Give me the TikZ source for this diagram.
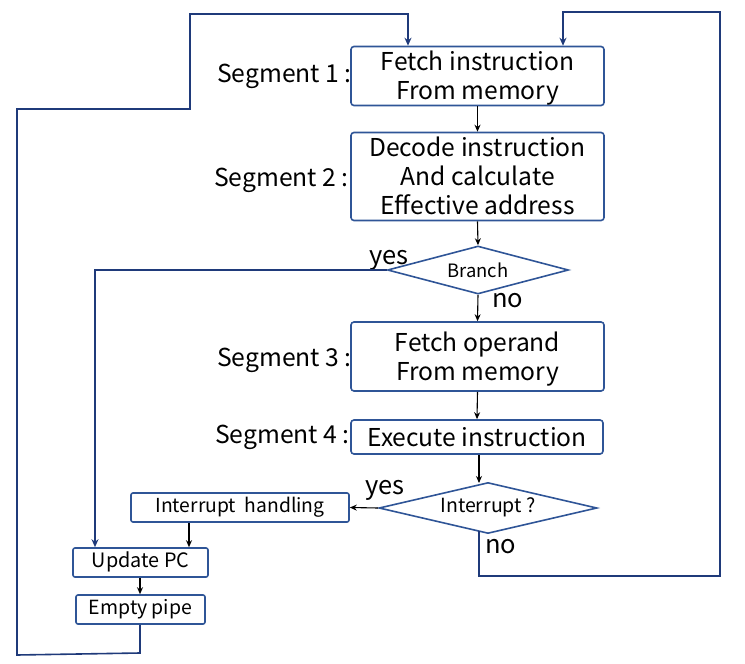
\documentclass[tikz,border=0pt]{standalone}
\usepackage{fontspec}
\setmainfont{Noto Sans CJK SC}
\usetikzlibrary{shapes.geometric,arrows.meta}
\definecolor{boxblue}{HTML}{2F5597}
\definecolor{navy}{HTML}{1F3A7A}
\newcommand\tstr{\rule{0pt}{24pt}}
\newcommand\bstr{\rule[-6pt]{0pt}{6pt}}
\newcommand\sstr{\rule[-5pt]{0pt}{19.3pt}}
\tikzset{
  stepbox/.style={draw=boxblue, line width=1.6pt, rounded corners=3pt, fill=white,
    align=center, inner sep=0pt, font=\fontsize{24.6}{29}\selectfont},
  smallbox/.style={draw=boxblue, line width=1.6pt, rounded corners=2pt, fill=white,
    align=center, inner sep=0pt},
  decide/.style={draw=boxblue, line width=1.6pt, diamond, aspect=3.7, inner sep=0pt},
  seglabel/.style={anchor=base east, inner sep=0pt, font=\fontsize{24.7}{28}\selectfont},
  anslabel/.style={anchor=base west, inner sep=0pt, font=\fontsize{25.5}{28}\selectfont},
  flow/.style={-{Stealth[length=7pt,width=6pt]}, line width=1.1pt, black},
  loop/.style={-{Stealth[length=8pt,width=7pt]}, line width=1.6pt, navy},
}
\begin{document}
\begin{tikzpicture}[x=1pt,y=-1pt]
\useasboundingbox (0,0) rectangle (745,664);
% main column
\node[stepbox, minimum width=253pt, minimum height=54pt] (fetch) at (477.5,76) {\tstr Fetch instruction\\From memory\bstr};
\node[stepbox, minimum width=253pt, minimum height=81pt] (decode) at (477.5,176.5) {\tstr Decode instruction\\And calculate\\Effective address\bstr};
\node[decide, minimum width=181pt, minimum height=48pt, font=\fontsize{18.4}{22}\selectfont] (branch) at (478,270) {Branch};
\node[stepbox, minimum width=253pt, minimum height=69pt] (operand) at (477.5,356.5) {\tstr Fetch operand\\From memory\bstr};
\node[stepbox, minimum width=252pt, minimum height=34pt] (exec) at (477,437) {\tstr Execute instruction\bstr};
\node[decide, minimum width=218pt, minimum height=51pt, font=\fontsize{19.5}{22}\selectfont] (intr) at (488,508) {\sstr Interrupt ?};
% left column
\node[smallbox, minimum width=218pt, minimum height=29pt, font=\fontsize{19.3}{22}\selectfont] (handle) at (240,507.5) {\sstr Interrupt\ \ handling};
\node[smallbox, minimum width=135pt, minimum height=29pt, font=\fontsize{19.8}{22}\selectfont] (update) at (140.5,562.5) {\sstr Update PC};
\node[smallbox, minimum width=129pt, minimum height=29pt, font=\fontsize{19.5}{22}\selectfont] (empty) at (140.5,609.5) {\sstr Empty pipe};
% segment labels
\node[seglabel] (s1) at (352,82.8) {Segment 1 :};
\node[seglabel] (s2) at (349,186.3) {Segment 2 :};
\node[seglabel] (s3) at (352,366.8) {Segment 3 :};
\node[seglabel] (s4) at (350,443.8) {Segment 4 :};
% answer labels
\node[anslabel] (by) at (369,264) {yes};
\node[anslabel] (bn) at (492,307) {no};
\node[anslabel] (iy) at (365,494) {yes};
\node[anslabel] (in) at (485,553) {no};
% straight arrows
\draw[flow] (fetch.south) -- (decode.north);
\draw[flow] (decode.south) -- (branch.north);
\draw[flow] (branch.south) -- (operand.north);
\draw[flow] (operand.south) -- (exec.north);
\coordinate (ia) at (479,483);
\draw[flow] (exec.south -| ia) -- (ia);
\draw[flow] (intr.west) -- (handle.east);
\draw[flow] (handle.south -| 189,0) -- (update.north -| 189,0);
\draw[flow] (update.south -| 140,0) -- (empty.north -| 140,0);
% loops
\coordinate (ya) at (95,270);
\draw[loop] (branch.west) -- (ya) -- (ya |- update.north);
\coordinate (e1) at (140,653);
\coordinate (e2) at (17,655);
\coordinate (e3) at (17,109);
\coordinate (e4) at (190,109);
\coordinate (e5) at (190,14);
\coordinate (e6) at (408,14);
\draw[loop] (empty.south -| e1) -- (e1) -- (e2) -- (e3) -- (e4) -- (e5) -- (e6) -- (e6 |- fetch.north);
\coordinate (n1) at (479,531);
\coordinate (n2) at (479,576);
\coordinate (n3) at (720,576);
\coordinate (n4) at (720,12);
\coordinate (n5) at (563,12);
\draw[loop] (n1) -- (n2) -- (n3) -- (n4) -- (n5) -- (n5 |- fetch.north);
\end{tikzpicture}
\end{document}
